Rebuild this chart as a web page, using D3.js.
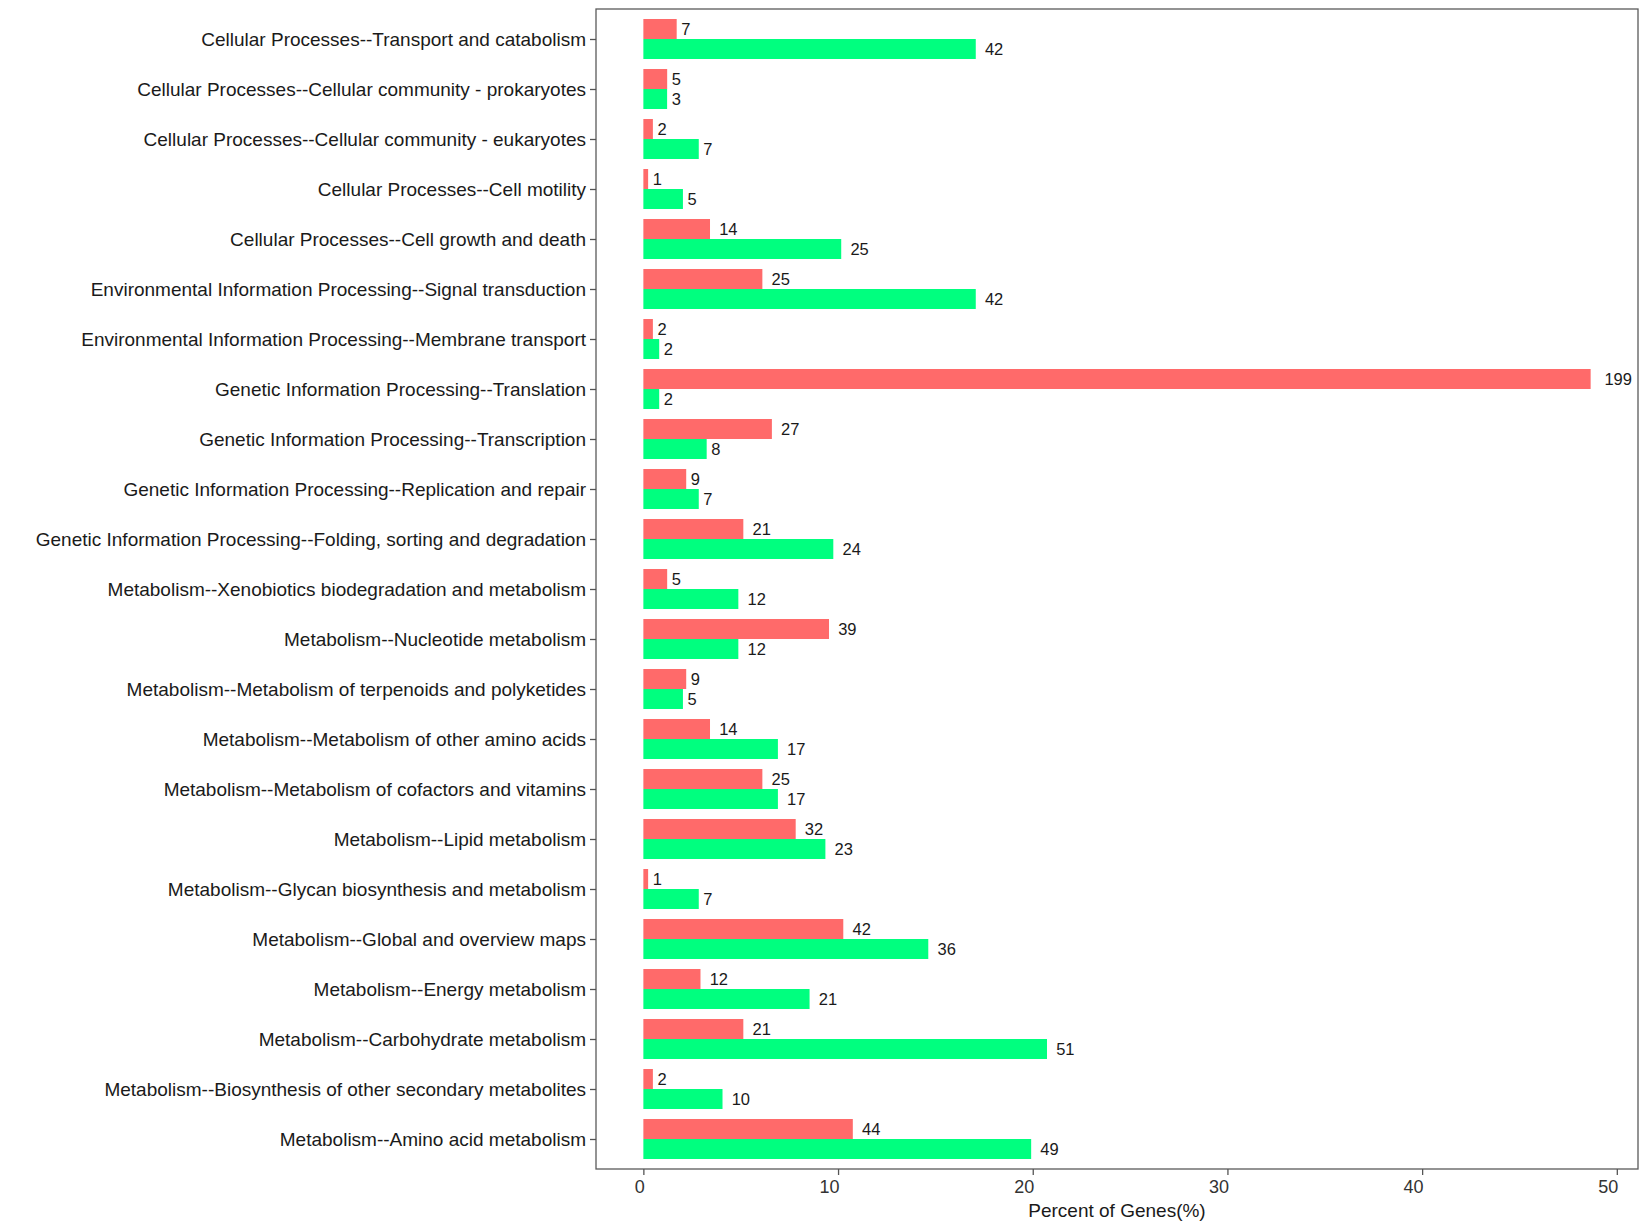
<!DOCTYPE html>
<html>
<head>
<meta charset="utf-8">
<script src="https://cdn.jsdelivr.net/npm/d3@7"></script>
<style>
body { margin: 0; background: #fff; }
text { font-family: "Liberation Sans", Arial, sans-serif; }
</style>
</head>
<body>
<script>
var categories = [
    'Cellular Processes--Transport and catabolism',
    'Cellular Processes--Cellular community - prokaryotes',
    'Cellular Processes--Cellular community - eukaryotes',
    'Cellular Processes--Cell motility',
    'Cellular Processes--Cell growth and death',
    'Environmental Information Processing--Signal transduction',
    'Environmental Information Processing--Membrane transport',
    'Genetic Information Processing--Translation',
    'Genetic Information Processing--Transcription',
    'Genetic Information Processing--Replication and repair',
    'Genetic Information Processing--Folding, sorting and degradation',
    'Metabolism--Xenobiotics biodegradation and metabolism',
    'Metabolism--Nucleotide metabolism',
    'Metabolism--Metabolism of terpenoids and polyketides',
    'Metabolism--Metabolism of other amino acids',
    'Metabolism--Metabolism of cofactors and vitamins',
    'Metabolism--Lipid metabolism',
    'Metabolism--Glycan biosynthesis and metabolism',
    'Metabolism--Global and overview maps',
    'Metabolism--Energy metabolism',
    'Metabolism--Carbohydrate metabolism',
    'Metabolism--Biosynthesis of other secondary metabolites',
    'Metabolism--Amino acid metabolism'
];

// gene counts shown on the bars
var redCounts = [7, 5, 2, 1, 14, 25, 2, 199, 27, 9, 21, 5, 39, 9, 14, 25, 32, 1, 42, 12, 21, 2, 44];
var greenCounts = [42, 3, 7, 5, 25, 42, 2, 2, 8, 7, 24, 12, 12, 5, 17, 17, 23, 7, 36, 21, 51, 10, 49];

// annotated genes per group
var redTotal = 409;
var greenTotal = 246;

var xTicks = [0, 10, 20, 30, 40, 50];

var W = 1650, H = 1229;
var pLeft = 596, pRight = 1638, pTop = 9, pBottom = 1169;

var rows = categories.map(function(c, i) {
    return {
        cat: c,
        bars: [
            {key: 'red', n: redCounts[i], pct: redCounts[i] / redTotal * 100},
            {key: 'green', n: greenCounts[i], pct: greenCounts[i] / greenTotal * 100}
        ]
    };
});

var xmax = d3.max(rows, function(r) { return d3.max(r.bars, function(b) { return b.pct; }); });

var x = d3.scaleLinear()
.domain([-0.05 * xmax, 1.05 * xmax])
.range([pLeft, pRight]);

var y = d3.scalePoint()
.domain(categories)
.range([pTop, pBottom])
.padding(0.6);

var step = y.step();

var sub = d3.scaleBand()
.domain(['red', 'green'])
.range([-0.4 * step, 0.4 * step]);

var color = {red: '#FF6A6A', green: '#00FF7F'};

var svg = d3.select('body')
.append('svg')
.attr('width', W)
.attr('height', H);

svg.append('rect')
.attr('width', W)
.attr('height', H)
.attr('fill', '#fff');

var group = svg.selectAll('g.row')
.data(rows)
.enter().append('g')
.attr('class', 'row')
.attr('transform', function(d) { return 'translate(0,' + y(d.cat) + ')'; });

group.selectAll('rect')
.data(function(d) { return d.bars; })
.enter().append('rect')
.attr('x', x(0))
.attr('y', function(d) { return sub(d.key); })
.attr('width', function(d) { return x(d.pct) - x(0); })
.attr('height', sub.bandwidth())
.attr('fill', function(d) { return color[d.key]; });

group.selectAll('text')
.data(function(d) { return d.bars; })
.enter().append('text')
.attr('y', function(d) { return sub(d.key) + sub.bandwidth() / 2; })
.attr('dy', '0.36em')
.attr('font-size', 16.5)
.attr('fill', '#1a1a1a')
.text(function(d) { return d.n; })
.attr('x', function(d) {
    // hjust = -0.5 : gap of half the label width
    return x(d.pct) + this.getComputedTextLength() / 2;
});

// panel border
svg.append('rect')
.attr('x', pLeft)
.attr('y', pTop)
.attr('width', pRight - pLeft)
.attr('height', pBottom - pTop)
.attr('fill', 'none')
.attr('stroke', '#5a5a5a')
.attr('stroke-width', 1.3);

var yAxis = svg.append('g')
.attr('transform', 'translate(' + pLeft + ',0)')
.call(d3.axisLeft(y).tickSize(6).tickPadding(4));

yAxis.select('.domain').remove();
yAxis.selectAll('line').attr('stroke', '#555').attr('stroke-width', 1.3);
yAxis.selectAll('text')
.attr('font-size', 19)
.attr('dy', '0.36em')
.attr('font-family', '"Liberation Sans", Arial, sans-serif')
.attr('fill', '#1a1a1a');

var xAxis = svg.append('g')
.attr('transform', 'translate(0,' + pBottom + ')')
.call(d3.axisBottom(x).tickValues(xTicks).tickSize(6).tickPadding(5));

xAxis.select('.domain').remove();
xAxis.selectAll('line').attr('stroke', '#555').attr('stroke-width', 1.3);
// tick labels sit just left of their tick in the original
xAxis.selectAll('text')
.attr('text-anchor', 'end')
.attr('x', 1)
.attr('font-size', 18)
.attr('font-family', '"Liberation Sans", Arial, sans-serif')
.attr('fill', '#333');

svg.append('text')
.attr('x', (pLeft + pRight) / 2)
.attr('y', 1217)
.attr('text-anchor', 'middle')
.attr('font-size', 19)
.attr('fill', '#1a1a1a')
.text('Percent of Genes(%)');
</script>
</body>
</html>
